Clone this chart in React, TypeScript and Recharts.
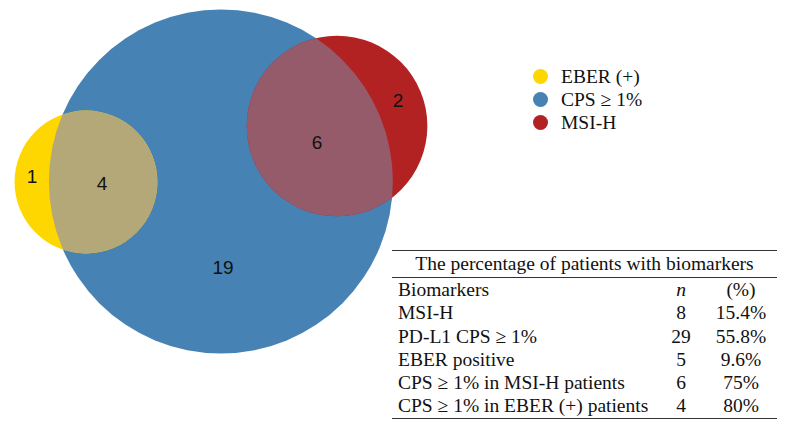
import React from 'react';
import { ScatterChart, Scatter, XAxis, YAxis, ZAxis, Legend } from 'recharts';

// Venn sets (area proportional to total patients)
const setNames = ['CPS ≥ 1%', 'EBER (+)', 'MSI-H'];
const setTotals = [29, 5, 8];
const setX = [27.75, 10.8, 42.34];
const setY = [22.85, 22.91, 15.86];
const setColors = ['#4682B4', '#FFD700', '#B22222'];
const overlapColors = ['', '#B4A878', '#955B6A'];

// counts of each region
const regionCounts = [1, 4, 19, 6, 2];
const regionX = [4.02, 12.81, 28.02, 39.82, 50.0];
const regionY = [22.16, 23.04, 33.61, 17.88, 12.59];

// legend order
const legendNames = ['EBER (+)', 'CPS ≥ 1%', 'MSI-H'];
const legendColors = ['#FFD700', '#4682B4', '#B22222'];

// table
const tableTitle = 'The percentage of patients with biomarkers';
const biomarkerNames = [
  'MSI-H',
  'PD-L1 CPS ≥ 1%',
  'EBER positive',
  'CPS ≥ 1% in MSI-H patients',
  'CPS ≥ 1% in EBER (+) patients',
];
const biomarkerN = [8, 29, 5, 6, 4];
const biomarkerPct = ['15.4%', '55.8%', '9.6%', '75%', '80%'];

const W = 796;
const H = 429;
const MAX_AREA = Math.PI * 172 * 172;
const CLIP_ID = 'venn-cps-clip';
const serif = '"Liberation Serif", "Times New Roman", serif';

function makeShape(index: number) {
  return (props: any) => {
    const { cx, cy, width } = props;
    const r = width / 2;
    if (index === 0) {
      return (
        <g>
          <clipPath id={CLIP_ID}>
            <circle cx={cx} cy={cy} r={r} />
          </clipPath>
          <circle cx={cx} cy={cy} r={r} fill={setColors[0]} />
        </g>
      );
    }
    return (
      <g>
        <circle cx={cx} cy={cy} r={r} fill={setColors[index]} />
        <circle cx={cx} cy={cy} r={r} fill={overlapColors[index]} clipPath={`url(#${CLIP_ID})`} />
      </g>
    );
  };
}

function RegionLabel(props: any) {
  const { cx, cy, payload } = props;
  return (
    <text
      x={cx}
      y={cy}
      textAnchor="middle"
      dominantBaseline="central"
      fontFamily='"Liberation Sans", Arial, sans-serif'
      fontSize={19}
      fill="#111"
    >
      {payload.count}
    </text>
  );
}

function VennLegend() {
  return (
    <div style={{ fontFamily: serif, fontSize: 19.5, color: '#111' }}>
      {legendNames.map((name, i) => (
        <div key={name} style={{ display: 'flex', alignItems: 'center', height: 23 }}>
          <span
            style={{
              display: 'inline-block',
              width: 15,
              height: 15,
              borderRadius: '50%',
              background: legendColors[i],
              marginRight: 13,
            }}
          />
          <span style={{ lineHeight: '23px' }}>{name}</span>
        </div>
      ))}
    </div>
  );
}

function BiomarkerTable() {
  const rowH = 23.3;
  const rows = [{ name: 'Biomarkers', n: 'n', pct: '(%)', head: true }].concat(
    biomarkerNames.map((name, i) => ({
      name,
      n: String(biomarkerN[i]),
      pct: biomarkerPct[i],
      head: false,
    }))
  );
  return (
    <div
      style={{
        position: 'absolute',
        left: 392,
        top: 250,
        width: 385,
        borderTop: '1px solid #333',
        borderBottom: '1px solid #333',
        fontFamily: serif,
        fontSize: 19.5,
        color: '#111',
      }}
    >
      <div style={{ height: 26, lineHeight: '26px', textAlign: 'center', borderBottom: '1px solid #333' }}>
        {tableTitle}
      </div>
      {rows.map((row) => (
        <div key={row.name} style={{ position: 'relative', height: rowH, lineHeight: `${rowH}px` }}>
          <span style={{ position: 'absolute', left: 6, whiteSpace: 'nowrap' }}>{row.name}</span>
          <span
            style={{
              position: 'absolute',
              left: 259,
              width: 60,
              textAlign: 'center',
              fontStyle: row.head ? 'italic' : 'normal',
            }}
          >
            {row.n}
          </span>
          <span style={{ position: 'absolute', left: 309, width: 80, textAlign: 'center' }}>{row.pct}</span>
        </div>
      ))}
    </div>
  );
}

export default function App() {
  const setData = setNames.map((name, i) => [{ name, x: setX[i], y: setY[i], z: setTotals[i] }]);
  const labelData = regionCounts.map((count, i) => ({ count, x: regionX[i], y: regionY[i] }));

  return (
    <div style={{ position: 'absolute', left: 0, top: 0, width: W, height: H, background: '#fff' }}>
      <ScatterChart width={W} height={H} margin={{ top: 0, right: 0, bottom: 0, left: 0 }}>
        <XAxis type="number" dataKey="x" domain={[0, 100]} hide />
        <YAxis type="number" dataKey="y" domain={[0, 54]} reversed hide />
        <ZAxis type="number" dataKey="z" domain={[0, Math.max(...setTotals)]} range={[0, MAX_AREA]} />
        {setData.map((data, i) => (
          <Scatter
            key={setNames[i]}
            name={setNames[i]}
            data={data}
            fill={setColors[i]}
            shape={makeShape(i)}
            isAnimationActive={false}
          />
        ))}
        <Scatter data={labelData} shape={RegionLabel} legendType="none" isAnimationActive={false} />
        <Legend
          layout="vertical"
          align="center"
          verticalAlign="middle"
          content={() => <VennLegend />}
          wrapperStyle={{ left: 533, top: 65, width: 'auto' }}
        />
      </ScatterChart>
      <BiomarkerTable />
    </div>
  );
}
